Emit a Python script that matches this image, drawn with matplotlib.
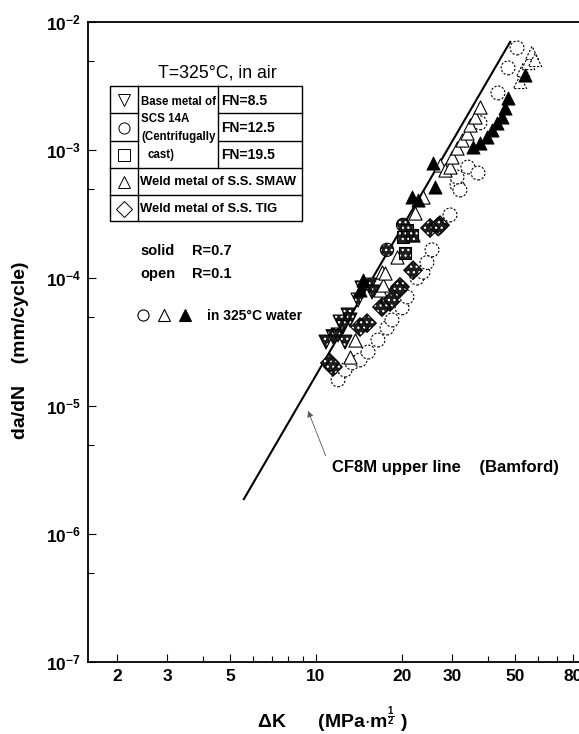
import numpy as np
import matplotlib
matplotlib.use('Agg')
import matplotlib.pyplot as plt
from matplotlib.patches import Rectangle
from matplotlib.ticker import FixedLocator, FixedFormatter, NullFormatter

plt.rcParams['font.family'] = ['Liberation Sans', 'DejaVu Sans']
plt.rcParams['mathtext.fontset'] = 'custom'
plt.rcParams['mathtext.rm'] = 'Liberation Sans:bold'
plt.rcParams['mathtext.bf'] = 'Liberation Sans:bold'
plt.rcParams['mathtext.it'] = 'Liberation Sans:bold'
plt.rcParams['hatch.linewidth'] = 0.9

# CF8M upper line (Bamford)
bamford_dk = [5.58, 48.0]
bamford_dadn = [1.87e-6, 7.0e-3]

# open circles, 325C water (dashed outline)
circ_water_dk = [11.95, 12.64, 13.38, 14.27, 15.23, 16.50, 17.75, 18.48, 20.04, 20.86,
                 22.62, 23.73, 24.50, 25.53, 29.53, 31.25, 32.0, 31.25, 34.1, 37.02,
                 37.62, 43.5, 47.19, 50.74]
circ_water_dadn = [1.60e-5, 1.91e-5, 2.17e-5, 2.29e-5, 2.64e-5, 3.28e-5, 4.07e-5, 4.70e-5, 5.85e-5, 7.11e-5,
                   9.99e-5, 1.11e-4, 1.32e-4, 1.66e-4, 3.11e-4, 5.33e-4, 4.87e-4, 6.15e-4, 7.36e-4, 6.61e-4,
                   1.63e-3, 2.79e-3, 4.38e-3, 6.27e-3]

# open triangles, SMAW weld metal, R=0.1
tri_open_dk = [13.16, 13.70, 16.77, 17.04, 17.18, 17.46, 19.24, 21.90, 22.26, 23.73,
               27.23, 28.35, 29.53, 30.0, 31.25, 32.5, 33.88, 34.71, 36.14, 37.62]
tri_open_dadn = [2.42e-5, 3.28e-5, 8.06e-5, 1.11e-4, 8.81e-5, 1.09e-4, 1.46e-4, 2.17e-4, 3.22e-4, 4.30e-4,
                 7.63e-4, 6.98e-4, 7.36e-4, 8.81e-4, 1.04e-3, 1.20e-3, 1.36e-3, 1.57e-3, 1.81e-3, 2.17e-3]

# open triangles, 325C water (dashed outline)
tri_water_dk = [51.99, 53.26, 55.45, 57.28, 58.68]
tri_water_dadn = [3.40e-3, 4.22e-3, 4.78e-3, 5.73e-3, 5.05e-3]

# solid triangles, 325C water
tri_black_dk = [14.27, 14.61, 21.72, 22.81, 25.74, 26.16, 35.56, 37.62, 39.82, 41.46,
                43.17, 44.95, 46.05, 47.19, 54.1]
tri_black_dadn = [8.06e-5, 9.64e-5, 4.30e-4, 4.07e-4, 7.91e-4, 5.14e-4, 1.06e-3, 1.13e-3, 1.26e-3, 1.43e-3,
                  1.63e-3, 1.81e-3, 2.13e-3, 2.55e-3, 3.86e-3]

# base metal FN=8.5, R=0.7
vtri_solid_dk = [10.84, 11.47, 11.95, 12.44, 12.95, 12.14, 13.16, 12.64, 14.04, 14.50, 15.47, 15.72]
vtri_solid_dadn = [3.16e-5, 3.48e-5, 3.59e-5, 4.14e-5, 5.14e-5, 4.53e-5, 4.70e-5, 3.16e-5, 6.73e-5, 8.37e-5, 8.81e-5, 7.78e-5]

# TIG weld metal, R=0.7
dia_solid_dk = [11.19, 11.47, 14.27, 15.10, 17.04, 18.18, 19.40, 19.71, 21.90, 25.12, 26.85, 27.23]
dia_solid_dadn = [2.17e-5, 2.02e-5, 4.14e-5, 4.44e-5, 5.93e-5, 6.49e-5, 8.06e-5, 8.53e-5, 1.15e-4, 2.46e-4, 2.52e-4, 2.59e-4]

# base metal FN=12.5 / FN=19.5, R=0.7
circ_solid_dk = [17.75, 20.2]
circ_solid_dadn = [1.66e-4, 2.60e-4]
sq_solid_dk = [20.53, 20.2, 20.86, 21.72]
sq_solid_dadn = [1.57e-4, 2.10e-4, 2.37e-4, 2.17e-4]

W, H = 579, 734
fig = plt.figure(figsize=(W / 100, H / 100), dpi=100)
ax = fig.add_axes([88 / W, (H - 662) / H, (W - 88) / W, (662 - 22) / H])
ax.set_xscale('log')
ax.set_yscale('log')
ax.set_xlim(1.585, 83.7)
ax.set_ylim(1e-7, 1e-2)

ax.plot(bamford_dk, bamford_dadn, color='black', lw=1.5, zorder=2)

dash = (0, (2.0, 1.5))


def stippled(x, y, marker, size, z):
    # dark fill with white dots, then a black outline on top
    ax.scatter(x, y, s=size, marker=marker, facecolors='#1e1e1e', edgecolors='white',
               linewidths=0, hatch='...', zorder=z)
    ax.scatter(x, y, s=size, marker=marker, facecolors='none', edgecolors='black',
               linewidths=0.8, zorder=z)


ax.scatter(circ_water_dk, circ_water_dadn, s=100, marker='o', facecolors='white',
           edgecolors='black', linewidths=0.8, linestyles=[dash], zorder=3)
ax.scatter(tri_open_dk, tri_open_dadn, s=90, marker='^', facecolors='white',
           edgecolors='black', linewidths=0.8, zorder=4)
ax.scatter(tri_water_dk, tri_water_dadn, s=90, marker='^', facecolors='white',
           edgecolors='black', linewidths=0.8, linestyles=[dash], zorder=4)
stippled(vtri_solid_dk, vtri_solid_dadn, 'v', 100, 5)
stippled(dia_solid_dk, dia_solid_dadn, 'D', 90, 5)
stippled(circ_solid_dk, circ_solid_dadn, 'o', 90, 5)
stippled(sq_solid_dk, sq_solid_dadn, 's', 80, 5)
ax.scatter(tri_black_dk, tri_black_dadn, s=90, marker='^', facecolors='black',
           edgecolors='black', linewidths=0.6, zorder=6)

# axes styling
ax.spines['right'].set_visible(False)
for side in ['left', 'bottom', 'top']:
    ax.spines[side].set_linewidth(1.3)

xmaj = [2, 3, 5, 10, 20, 30, 50, 80]
xmin = [4, 6, 7, 8, 9, 40, 60, 70]
ax.xaxis.set_major_locator(FixedLocator(xmaj))
ax.xaxis.set_major_formatter(FixedFormatter([str(v) for v in xmaj]))
ax.xaxis.set_minor_locator(FixedLocator(xmin))
ax.xaxis.set_minor_formatter(NullFormatter())

ymaj = [1e-7, 1e-6, 1e-5, 1e-4, 1e-3, 1e-2]
ax.yaxis.set_major_locator(FixedLocator(ymaj))
ax.yaxis.set_major_formatter(FixedFormatter([r'$\mathbf{10^{-%d}}$' % k for k in [7, 6, 5, 4, 3, 2]]))
ax.yaxis.set_minor_locator(FixedLocator([5e-7, 5e-6, 5e-5, 5e-4, 5e-3]))
ax.yaxis.set_minor_formatter(NullFormatter())

ax.tick_params(which='both', direction='in', width=0.8, labelsize=12.5, top=False, right=False)
ax.tick_params(which='major', length=6, pad=5)
ax.tick_params(which='minor', length=4)
for lab in ax.get_xticklabels():
    lab.set_fontweight('bold')

fig.text(332 / W, 1 - 720 / H, r'$\Delta$K      (MPa$\cdot$m$^{\frac{1}{2}}$ )', ha='center', va='center',
         fontsize=14, fontweight='bold')
fig.text(21 / W, 1 - 350 / H, 'da/dN    (mm/cycle)', rotation=90, ha='center', va='center',
         fontsize=14, fontweight='bold')

# annotation for the Bamford line
ax.annotate('', xy=(9.3, 9.6e-6), xytext=(10.9, 3.9e-6),
            arrowprops=dict(arrowstyle='-|>', lw=0.6, color='0.35', mutation_scale=9))
ax.text(11.4, 3.28e-6, 'CF8M upper line    (Bamford)', ha='left', va='center',
        fontsize=12, fontweight='bold')

# legend block drawn in pixel space
ov = fig.add_axes([0, 0, 1, 1])
ov.set_xlim(0, W)
ov.set_ylim(H, 0)
ov.axis('off')
ov.patch.set_alpha(0)

ov.text(217, 73, 'T=325°C, in air', ha='center', va='center', fontsize=12.8)
ov.add_patch(Rectangle((110, 86), 192, 135, fill=False, lw=1.0, color='black'))
for yy in [168, 195]:
    ov.plot([110, 302], [yy, yy], color='black', lw=1.0)
for yy in [113, 141]:
    ov.plot([110, 138], [yy, yy], color='black', lw=1.0)
    ov.plot([218, 302], [yy, yy], color='black', lw=1.0)
ov.plot([138, 138], [86, 221], color='black', lw=1.0)
ov.plot([218, 218], [86, 168], color='black', lw=1.0)

sym_y = [100, 128, 155, 182, 209]
sym_m = ['v', 'o', 's', '^', 'D']
for yy, mk in zip(sym_y, sym_m):
    ov.plot([124], [yy], marker=mk, ms=8, mfc='white', mec='black', mew=0.7, ls='none')

base = dict(fontsize=8.3, fontweight='bold', va='center', ha='left')
ov.text(141, 102, 'Base metal of', **base)
ov.text(141, 119, 'SCS 14A', **base)
ov.text(141, 137, '(Centrifugally', **base)
ov.text(148, 155, 'cast)', **base)
fn = dict(fontsize=10, fontweight='bold', va='center', ha='left')
ov.text(221, 101, 'FN=8.5', **fn)
ov.text(221, 128, 'FN=12.5', **fn)
ov.text(221, 155, 'FN=19.5', **fn)
weld = dict(fontsize=9.4, fontweight='bold', va='center', ha='left')
ov.text(140, 182, 'Weld metal of S.S. SMAW', **weld)
ov.text(140, 209, 'Weld metal of S.S. TIG', **weld)

mid = dict(fontsize=10.5, fontweight='bold', va='center', ha='left')
ov.text(140, 251, 'solid', **mid)
ov.text(192, 251, 'R=0.7', **mid)
ov.text(140, 274, 'open', **mid)
ov.text(192, 274, 'R=0.1', **mid)

ov.plot([143], [315], marker='o', ms=8, mfc='white', mec='black', mew=0.8, ls='none')
ov.plot([164], [315], marker='^', ms=8, mfc='white', mec='black', mew=0.8, ls='none')
ov.plot([185], [315], marker='^', ms=8, mfc='black', mec='black', mew=0.8, ls='none')
ov.text(207, 316, 'in 325°C water', fontsize=10, fontweight='bold', va='center', ha='left')

fig.savefig('out.png', dpi=100)
